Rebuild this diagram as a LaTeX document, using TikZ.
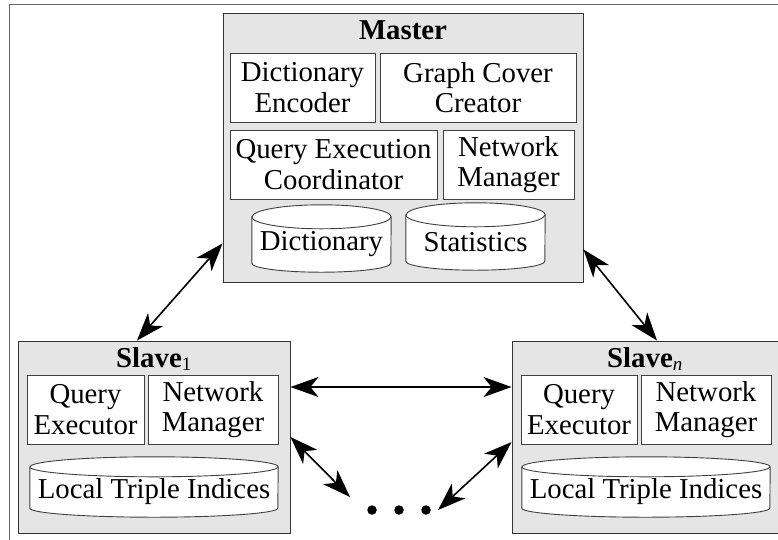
\documentclass[tikz,border=0pt]{standalone}
\usepackage{fontspec}
\setmainfont{Liberation Serif}
\usetikzlibrary{arrows.meta}
\pgfdeclarelayer{back}
\pgfdeclarelayer{mid}
\pgfsetlayers{back,mid,main}

\newcommand\bodysize{\fontsize{28.8}{30.5}\selectfont}
\newcommand\subsize{\fontsize{19}{19}\selectfont}

\tikzset{
  boxline/.style={draw=black!75, line width=0.9pt},
  container/.style={boxline, draw=black!80, fill=black!10, inner sep=0pt},
  part/.style={boxline, fill=white, align=center, inner sep=0pt},
  dbtext/.style={inner sep=0pt, align=center},
  title/.style={font=\bodysize\bfseries, anchor=base, inner sep=0pt},
  biarrow/.style={line width=1.6pt, {Stealth[length=28pt,width=20pt,inset=8pt]}-{Stealth[length=28pt,width=20pt,inset=8pt]}},
  dot/.style={circle, fill=black, inner sep=0pt, minimum size=9.5pt}
}

% drum outline behind a text node: name, half width, top radius, bottom radius
\newcommand\dbdrum[4]{%
  \begin{pgfonlayer}{mid}
    \draw[boxline, fill=white] (#1.north west) -- ([yshift=#4]#1.south west)
      arc[start angle=180, end angle=360, x radius=#2, y radius=#4]
      -- (#1.north east)
      arc[start angle=0, end angle=180, x radius=#2, y radius=#3] -- cycle;
    \draw[boxline] (#1.north west)
      arc[start angle=180, end angle=360, x radius=#2, y radius=#3];
  \end{pgfonlayer}}

\begin{document}
\begin{tikzpicture}[x=1pt, y=-1pt, font=\bodysize]
\useasboundingbox (0,0) rectangle (778,539);

% outer frame and the three machine boxes
\begin{pgfonlayer}{back}
  \draw[draw=black!60, line width=1pt] (9,600) -- (9,4.5) -- (850,4.5);
  \node[container, minimum width=360pt, minimum height=269pt] (master) at (403,147.5) {};
  \node[container, minimum width=272pt, minimum height=192pt] (slave1) at (154,437) {};
  \node[container, minimum width=267pt, minimum height=192pt] (slaven) at (645.5,437) {};
\end{pgfonlayer}

% ---------- master ----------
\node[title] (mastertitle) at (403,39) {Master};
\node[part, minimum width=145pt, minimum height=69pt] (enc) at (302.5,87.5) {Dictionary\\Encoder};
\node[part, minimum width=196pt, minimum height=69pt] (gcc) at (478,87.5) {Graph Cover\\Creator};
\node[part, minimum width=207pt, minimum height=69pt] (qec) at (333.5,164.5) {Query Execution\\Coordinator};
\node[part, minimum width=131pt, minimum height=69pt] (mnm) at (508.5,164.5) {Network\\Manager};
\node[dbtext, minimum width=139pt, minimum height=55pt] (dict) at (321.5,244.5) {Dictionary};
\dbdrum{dict}{69.5pt}{12pt}{9pt}
\node[dbtext, minimum width=139pt, minimum height=55pt] (stats) at (475.5,242.5) {Statistics};
\dbdrum{stats}{69.5pt}{12pt}{9pt}

% ---------- slave 1 ----------
\node[title] (s1title) at (154,367) {Slave\textsubscript{\mdseries\subsize 1}};
\node[part, minimum width=117pt, minimum height=69pt] (s1qe) at (85.5,409.5) {Query\\Executor};
\node[part, minimum width=130pt, minimum height=69pt] (s1nm) at (213,409.5) {Network\\Manager};
\node[dbtext, minimum width=248pt, minimum height=50pt] (s1lti) at (154,492) {Local Triple Indices};
\dbdrum{s1lti}{124pt}{10pt}{9pt}

% ---------- slave n ----------
\node[title] (sntitle) at (645,367) {Slave\textsubscript{\mdseries\itshape\subsize n}};
\node[part, minimum width=116pt, minimum height=69pt] (snqe) at (579,409.5) {Query\\Executor};
\node[part, minimum width=130pt, minimum height=69pt] (snnm) at (706,409.5) {Network\\Manager};
\node[dbtext, minimum width=248pt, minimum height=50pt] (snlti) at (646,492) {Local Triple Indices};
\dbdrum{snlti}{124pt}{10pt}{9pt}

% ---------- further slaves ----------
\node[dot] (d1) at (372,510) {};
\node[dot] (d2) at (399,510) {};
\node[dot] (d3) at (426,510) {};

% ---------- connections ----------
\draw[biarrow] ([yshift=39pt]master.south west) -- ([xshift=-17pt]slave1.north);
\draw[biarrow] ([yshift=33pt]master.south east) -- ([xshift=11.5pt]slaven.north);
\draw[biarrow] ([yshift=50pt]slave1.east) -- ([yshift=50pt]slaven.west);
\draw[biarrow] (slave1.east) -- ([xshift=-22pt,yshift=13pt]d1.center);
\draw[biarrow] ([yshift=-5pt]slaven.west) -- ([xshift=12pt]d3.center);
\end{tikzpicture}
\end{document}
